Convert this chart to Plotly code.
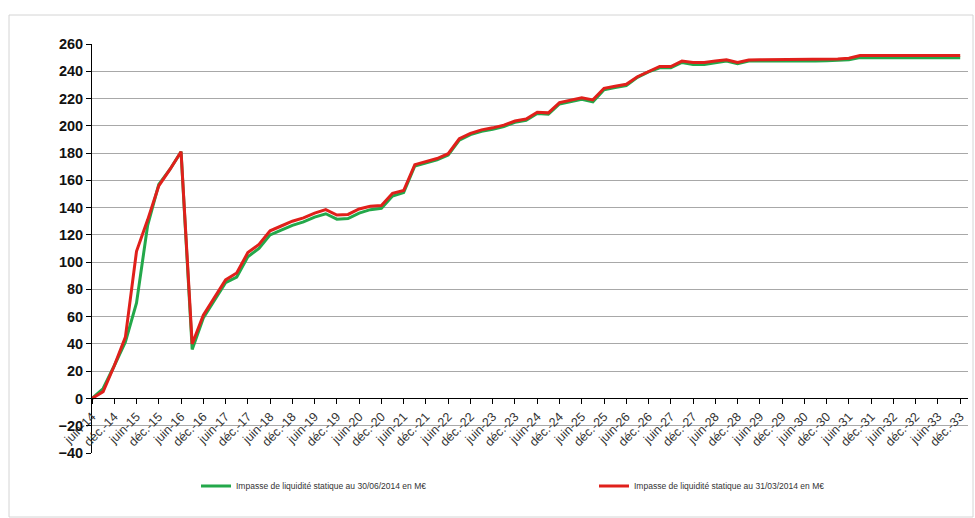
import plotly.graph_objects as go

# ---- data (quarterly, juin-14 .. déc.-33) ----
tick_labels = []
for yy in range(14, 34):
    tick_labels += [f"juin-{yy}", f"déc.-{yy}"]

quarter_labels = []
for yy in range(14, 34):
    quarter_labels += [f"juin-{yy}", f"sept.-{yy}", f"déc.-{yy}"]
    if yy < 33:
        quarter_labels += [f"mars-{yy+1}"]

serie_30_06 = [0, 7.3, 24, 41.5, 70, 127, 157, 168, 181, 36, 59, 72, 85, 89, 104, 110,
               120, 123.5, 127, 129.5, 133, 135.5, 131.5, 132, 136, 138.5, 139.5, 148.5,
               151, 170.5, 173, 175, 178.5, 189.5, 193.5, 196, 197.5, 199.5, 202.5, 204,
               209, 208.5, 216, 218, 219.5, 217.5, 226.5, 228, 229.5, 235.5, 239.5, 242.5,
               242.5, 246.5, 245, 245, 246.5, 247.5, 245.5, 247.5, 247.5, 247.5, 247, 247,
               247.5, 247.5, 247.8, 248, 248.5, 250, 250, 250, 250, 250, 250, 250, 250, 250, 250]
serie_31_03 = [0, 5, 24, 45, 108, 131, 156, 168, 181, 40, 61, 74, 87, 92, 107, 113,
               123, 126.5, 130, 132.5, 136, 138.5, 134.5, 135, 139, 141, 141.5, 150.5,
               152.5, 171.5, 174, 176, 179.5, 190.5, 194.5, 197, 198.5, 200.5, 203.5, 205,
               210, 209.5, 217, 219, 220.5, 219, 227.5, 229, 230.5, 236, 240, 243.5,
               243.5, 247.5, 246.5, 246.5, 247.5, 248.5, 246.5, 248.3, 248.5, 248.5, 248.5, 248.5,
               248.5, 248.5, 248.7, 249, 249.5, 251.5, 251.5, 251.5, 251.5, 251.5, 251.5, 251.5,
               251.5, 251.5, 251.5]

name_green = "Impasse de liquidité statique au 30/06/2014 en M€"
name_red = "Impasse de liquidité statique au 31/03/2014 en M€"

fig = go.Figure()
fig.add_trace(go.Scatter(x=quarter_labels, y=serie_30_06, mode="lines", name=name_green,
                         line=dict(color="#23a84a", width=3), legend="legend"))
fig.add_trace(go.Scatter(x=quarter_labels, y=serie_31_03, mode="lines", name=name_red,
                         line=dict(color="#e0201b", width=3), legend="legend2"))

ymin, ymax = -40, 260
fig.update_layout(
    width=975, height=518,
    margin=dict(l=92, r=7, t=44, b=65),
    paper_bgcolor="white", plot_bgcolor="white",
    font=dict(family="Liberation Sans, Arial, sans-serif", color="#222"),
    xaxis=dict(
        type="category", range=[0, 78.7],
        tickmode="array", tickvals=tick_labels, ticktext=tick_labels,
        tickangle=-45, tickfont=dict(size=12.5, color="#333"),
        showgrid=False, showline=True, linecolor="black", linewidth=1,
        ticks="outside", ticklen=5, tickcolor="black",
        anchor="free", position=(0 - ymin) / (ymax - ymin),
    ),
    yaxis=dict(
        range=[ymin, ymax], tickmode="linear", tick0=-40, dtick=20,
        tickfont=dict(size=14.5, color="#111", weight="bold"),
        showgrid=True, gridcolor="#a8a8a8", gridwidth=1,
        zeroline=False, showline=True, linecolor="black", linewidth=1,
        ticks="outside", ticklen=5, tickcolor="black",
    ),
    legend=dict(x=(196 - 92) / 876, y=(453 - 486) / 409, xanchor="left", yanchor="middle",
                font=dict(size=8.5, color="#333"), bgcolor="rgba(0,0,0,0)"),
    legend2=dict(x=(594 - 92) / 876, y=(453 - 486) / 409, xanchor="left", yanchor="middle",
                 font=dict(size=8.5, color="#333"), bgcolor="rgba(0,0,0,0)"),
    showlegend=True,
)

fig.add_shape(type="rect", xref="paper", yref="paper",
              x0=(9 - 92) / 876, x1=(973 - 92) / 876,
              y0=(453 - 517) / 409, y1=(453 - 15) / 409,
              line=dict(color="#d4d4d4", width=1), fillcolor="rgba(0,0,0,0)", layer="below")

fig.write_html("out.html")
